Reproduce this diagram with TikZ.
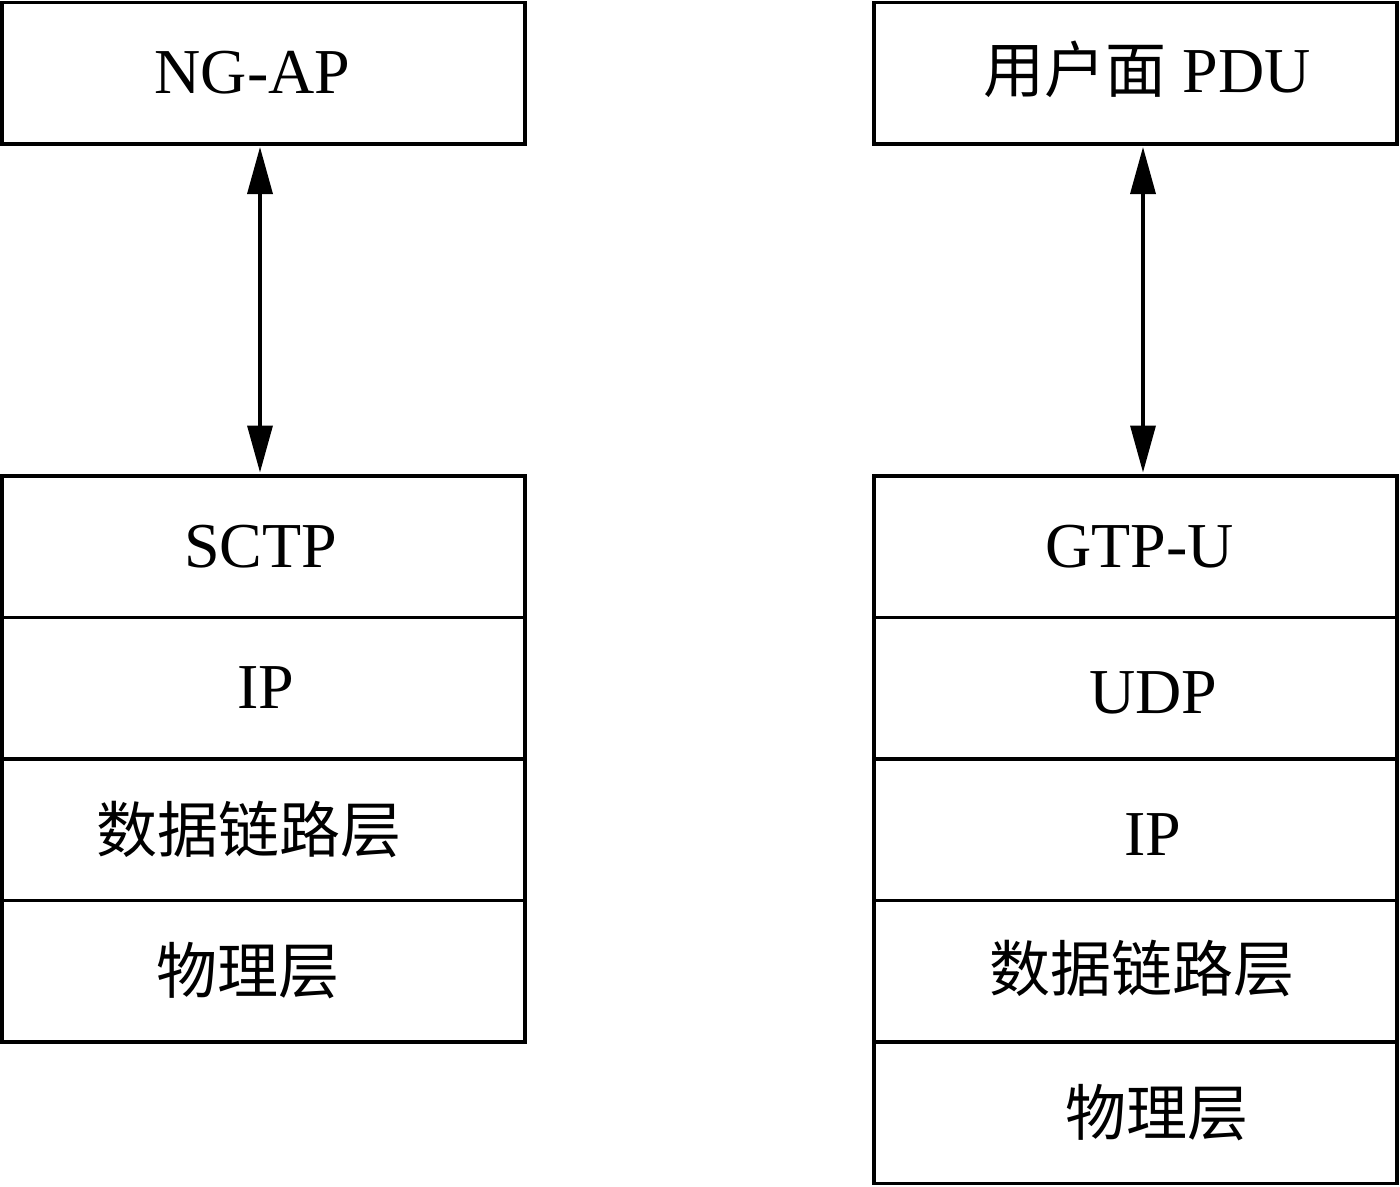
\documentclass[tikz,border=0pt]{standalone}
\usepackage{fontspec}
\setmainfont{Liberation Serif}
\newfontfamily\cjk{Noto Sans CJK SC}
\usetikzlibrary{arrows.meta}
\tikzset{
  layerbox/.style={draw=black, line width=3.5pt, minimum width=523pt, minimum height=141.5pt, inner sep=0pt, fill=white},
  txt/.style={font=\fontsize{64}{68}\selectfont, inner sep=0pt},
  cjktxt/.style={font=\cjk\fontsize{61}{65}\selectfont, inner sep=0pt},
  link/.style={line width=3.5pt, {Triangle[length=47pt,width=25pt]}-{Triangle[length=47pt,width=25pt]}}
}
\begin{document}
\begin{tikzpicture}[x=1pt,y=-1pt]
\useasboundingbox (0,0) rectangle (1400,1186);
% left column
\node[layerbox] (la) at (263.5,73) {};
\node[layerbox] (lb1) at (263.5,546.5) {};
\node[layerbox] (lb2) at (263.5,688) {};
\node[layerbox] (lb3) at (263.5,829.5) {};
\node[layerbox] (lb4) at (263.5,971) {};
\node[txt] (lat) at ([xshift=-11pt]la.center) {NG-AP};
\node[txt] (lb1t) at ([xshift=-3pt]lb1.center) {SCTP};
\node[txt] (lb2t) at ([xshift=2pt]lb2.center) {IP};
\node[cjktxt] (lb3t) at ([xshift=-15pt]lb3.center) {数据链路层};
\node[cjktxt] (lb4t) at ([xshift=-16pt]lb4.center) {物理层};
% right column
\node[layerbox] (ra) at (1135.5,73) {};
\node[layerbox] (rb1) at (1135.5,546.5) {};
\node[layerbox] (rb2) at (1135.5,688) {};
\node[layerbox] (rb3) at (1135.5,829.5) {};
\node[layerbox] (rb4) at (1135.5,971) {};
\node[layerbox] (rb5) at (1135.5,1112.5) {};
\node[inner sep=0pt] (rat) at ([xshift=12pt,yshift=4pt]ra.center) {\cjk\fontsize{61}{65}\selectfont 用户面\fontsize{64}{68}\selectfont\rmfamily\ PDU};
\node[txt] (rb1t) at ([xshift=4pt]rb1.center) {GTP-U};
\node[txt] (rb2t) at ([xshift=18pt,yshift=-5pt]rb2.center) {UDP};
\node[txt] (rb3t) at ([xshift=17pt,yshift=-5pt]rb3.center) {IP};
\node[cjktxt] (rb4t) at ([xshift=6pt,yshift=3pt]rb4.center) {数据链路层};
\node[cjktxt] (rb5t) at ([xshift=21pt]rb5.center) {物理层};
% connectors
\draw[link] ([xshift=-3.5pt,yshift=-1.5pt]la.south) -- ([xshift=-3.5pt,yshift=1.5pt]lb1.north);
\draw[link] ([xshift=7.5pt,yshift=-1.5pt]ra.south) -- ([xshift=7.5pt,yshift=1.5pt]rb1.north);
\end{tikzpicture}
\end{document}
